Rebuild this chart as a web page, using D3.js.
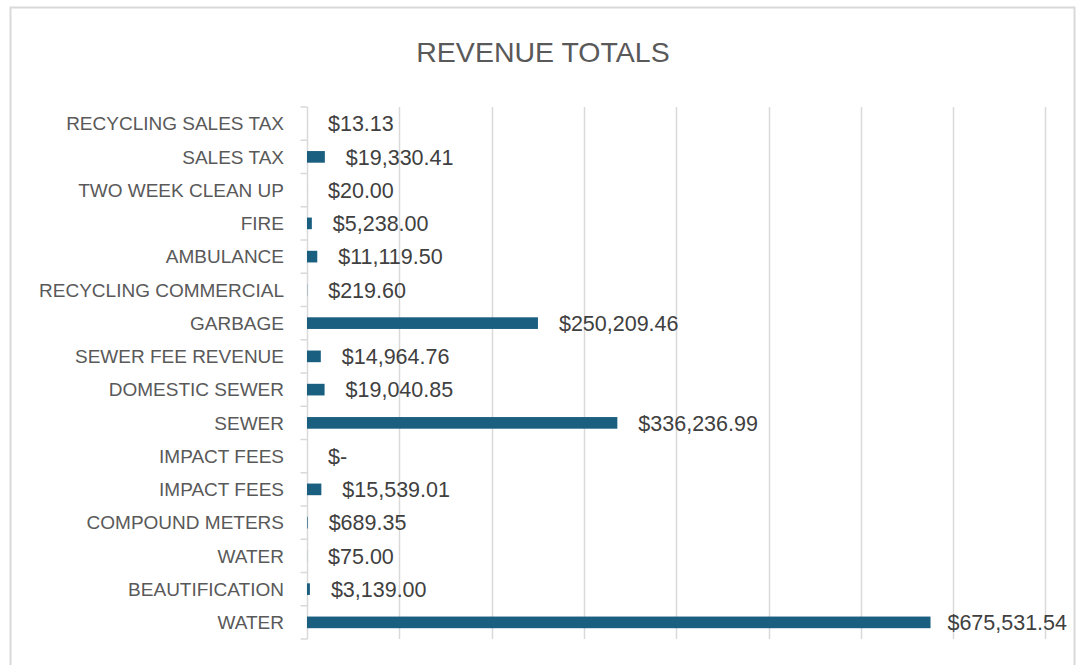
<!DOCTYPE html>
<html>
<head>
<meta charset="utf-8">
<script src="https://cdn.jsdelivr.net/npm/d3@7"></script>
<style>
  html, body { margin: 0; padding: 0; background: #ffffff; }
  svg { display: block; }
</style>
</head>
<body>
<svg id="chart" width="1080" height="665"></svg>
<script>
// Revenue line items, listed top to bottom
const categories = [
  "RECYCLING SALES TAX", "SALES TAX", "TWO WEEK CLEAN UP", "FIRE", "AMBULANCE",
  "RECYCLING COMMERCIAL", "GARBAGE", "SEWER FEE REVENUE", "DOMESTIC SEWER", "SEWER",
  "IMPACT FEES", "IMPACT FEES", "COMPOUND METERS", "WATER", "BEAUTIFICATION", "WATER"
];
const revenue = [
  13.13, 19330.41, 20.00, 5238.00, 11119.50,
  219.60, 250209.46, 14964.76, 19040.85, 336236.99,
  0, 15539.01, 689.35, 75.00, 3139.00, 675531.54
];
const gridTicks = [0, 100000, 200000, 300000, 400000, 500000, 600000, 700000, 800000];
const title = "REVENUE TOTALS";

const W = 1080, H = 665;
const margin = { left: 307, right: 35, top: 107, bottom: 26 };
const svg = d3.select("#chart");

// chart frame
svg.append("rect")
  .attr("x", 10.5).attr("y", 7.5)
  .attr("width", 1064).attr("height", 680)
  .attr("fill", "#fff").attr("stroke", "#d9d9d9").attr("stroke-width", 2);

svg.append("text")
  .attr("x", 543).attr("y", 62)
  .attr("text-anchor", "middle")
  .attr("font-family", "'Liberation Sans', Arial, sans-serif")
  .attr("font-size", 28.5)
  .attr("fill", "#595959")
  .text(title);

const x = d3.scaleLinear()
  .domain([0, 800000])
  .range([margin.left, margin.left + 8 * 92.3]);

const idx = categories.map((_, i) => i);
const y = d3.scaleBand()
  .domain(idx)
  .range([margin.top, H - margin.bottom])
  .paddingInner(0.65).paddingOuter(0.325);

// vertical gridlines
svg.append("g")
  .selectAll("line")
  .data(gridTicks.slice(1))
  .join("line")
  .attr("x1", d => Math.round(x(d)) + 0.5).attr("x2", d => Math.round(x(d)) + 0.5)
  .attr("y1", margin.top).attr("y2", H - margin.bottom)
  .attr("stroke", "#d9d9d9").attr("stroke-width", 1.5);

// category axis with ticks at band boundaries
const step = y.step();
const axisX = Math.round(x(0)) + 0.5;
const axisG = svg.append("g");
axisG.append("line")
  .attr("x1", axisX).attr("x2", axisX)
  .attr("y1", margin.top).attr("y2", H - margin.bottom)
  .attr("stroke", "#d9d9d9").attr("stroke-width", 1.5);
axisG.selectAll("line.tick")
  .data(d3.range(categories.length + 1))
  .join("line")
  .attr("class", "tick")
  .attr("x1", axisX - 7).attr("x2", axisX)
  .attr("y1", i => margin.top + i * step).attr("y2", i => margin.top + i * step)
  .attr("stroke", "#d9d9d9").attr("stroke-width", 1.5);

axisG.selectAll("text")
  .data(idx)
  .join("text")
  .attr("x", 284)
  .attr("y", i => y(i) + y.bandwidth() / 2)
  .attr("dy", "0.36em")
  .attr("text-anchor", "end")
  .attr("font-family", "'Liberation Sans', Arial, sans-serif")
  .attr("font-size", 19)
  .attr("fill", "#595959")
  .text(i => categories[i]);

// bars
svg.append("g")
  .selectAll("rect")
  .data(idx)
  .join("rect")
  .attr("x", x(0))
  .attr("y", i => y(i))
  .attr("width", i => x(revenue[i]) - x(0))
  .attr("height", y.bandwidth())
  .attr("fill", "#1a5e80");

// value labels
const money = d3.format("$,.2f");
const fmt = v => v === 0 ? "$-" : money(v);
svg.append("g")
  .selectAll("text")
  .data(idx)
  .join("text")
  .attr("x", i => x(revenue[i]) + 21)
  .attr("y", i => y(i) + y.bandwidth() / 2)
  .attr("dy", "0.36em")
  .attr("font-family", "'Liberation Sans', Arial, sans-serif")
  .attr("font-size", 21.5)
  .attr("fill", "#404040")
  .text(i => fmt(revenue[i]))
  .each(function () {
    const t = d3.select(this);
    const len = this.getComputedTextLength();
    const limit = 1067;
    if (+t.attr("x") + len > limit) t.attr("x", limit - len);
  });
</script>
</body>
</html>
